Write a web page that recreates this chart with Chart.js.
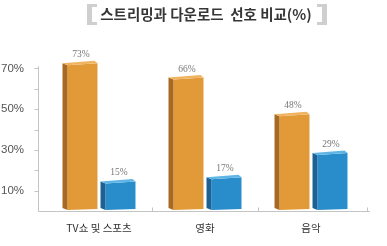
<!DOCTYPE html>
<html><head><meta charset="utf-8">
<script src="https://cdn.jsdelivr.net/npm/chart.js@4/dist/chart.umd.min.js"></script>
<style>html,body{margin:0;padding:0;background:#fff}#wrap{width:387px;height:246px}</style>
</head><body><div id="wrap"><canvas id="c" width="387" height="246"></canvas></div>
<script>
const titleText = '스트리밍과 다운로드  선호 비교(%)';
const categories = ['TV쇼 및 스포츠', '영화', '음악'];
const streaming = [73, 66, 48];
const download = [15, 17, 29];
const yTickLabels = [10, 30, 50, 70];
const yMinorTicks = [20, 40, 60];

const faces = [
  {front:'#E29A38', side:'#A86A22', top:'#F0B35F'},
  {front:'#2A8DCB', side:'#1B6195', top:'#5FB6E4'}
];

const deco = {
  id:'deco',
  beforeDatasetDraw(){ return false; },
  afterDatasetsDraw(chart){
    const ctx = chart.ctx;
    chart.data.datasets.forEach((ds, di) => {
      const meta = chart.getDatasetMeta(di);
      const f = faces[di];
      meta.data.forEach((bar, i) => {
        const w = bar.width, x0 = bar.x - w/2, x1 = bar.x + w/2, y = bar.y, b = bar.base;
        const d = 5;
        ctx.save();
        ctx.fillStyle = f.front;
        ctx.beginPath();
        ctx.moveTo(x0+d, y+3); ctx.lineTo(x1, y+1); ctx.lineTo(x1, b-2); ctx.lineTo(x0+d, b-1); ctx.closePath(); ctx.fill();
        ctx.fillStyle = f.side;
        ctx.beginPath();
        ctx.moveTo(x0, y+1); ctx.lineTo(x0+d, y+3); ctx.lineTo(x0+d, b-1); ctx.lineTo(x0, b-3); ctx.closePath(); ctx.fill();
        ctx.fillStyle = f.top;
        ctx.beginPath();
        ctx.moveTo(x0, y+1); ctx.lineTo(x1-3, y-1.5); ctx.lineTo(x1, y+1); ctx.lineTo(x0+d, y+3); ctx.closePath(); ctx.fill();
        ctx.fillStyle = '#777';
        ctx.font = '9.5px "Liberation Serif", serif';
        ctx.textAlign = 'center';
        ctx.textBaseline = 'alphabetic';
        ctx.fillText(ds.data[i] + '%', bar.x + 1, y - 5);
        ctx.restore();
      });
    });
  },
  afterDraw(chart){
    const ctx = chart.ctx;
    const xs = chart.scales.x, ys = chart.scales.y;
    const base = Math.round(ys.getPixelForValue(0)) + 0.5;
    const ax = 38.5;
    ctx.save();
    ctx.strokeStyle = '#c4c4c4';
    ctx.lineWidth = 1;
    ctx.beginPath();
    ctx.moveTo(ax, ys.getPixelForValue(70) - 2);
    ctx.lineTo(ax, base);
    ctx.stroke();
    // y tick marks
    yTickLabels.concat(yMinorTicks).forEach(v => {
      const py = Math.round(ys.getPixelForValue(v)) + 0.5;
      ctx.beginPath();
      ctx.moveTo(ax - 4, py); ctx.lineTo(ax, py); ctx.stroke();
    });
    // x axis line
    ctx.beginPath();
    ctx.moveTo(ax, base);
    ctx.lineTo(370, base);
    ctx.stroke();
    // category boundary marks
    const n = categories.length;
    for (let i = 0; i < n; i++) {
      const bx = i < n-1 ? (xs.getPixelForValue(i) + xs.getPixelForValue(i+1))/2 : chart.chartArea.right + 3;
      const px = Math.round(bx) + 0.5;
      ctx.beginPath();
      ctx.moveTo(px, base - 4);
      ctx.lineTo(px, base);
      ctx.stroke();
    }
    // title
    ctx.fillStyle = '#363636';
    ctx.font = 'bold 14.5px "Noto Sans CJK KR", sans-serif';
    ctx.textAlign = 'center';
    ctx.textBaseline = 'middle';
    ctx.fillText(titleText, 206, 14);
    ctx.fillStyle = '#cfcfcf';
    ctx.fillRect(87, 4, 5, 21);
    ctx.fillRect(87, 4, 10, 3);
    ctx.fillRect(87, 22, 10, 3);
    ctx.fillRect(322, 4, 5, 21);
    ctx.fillRect(317, 4, 10, 3);
    ctx.fillRect(317, 22, 10, 3);
    ctx.restore();
  }
};

new Chart(document.getElementById('c'), {
  type: 'bar',
  data: {
    labels: categories,
    datasets: [
      {label:'스트리밍', data: streaming, backgroundColor: faces[0].front, borderWidth:0},
      {label:'다운로드', data: download, backgroundColor: faces[1].front, borderWidth:0}
    ]
  },
  options: {
    responsive: false,
    animation: false,
    layout: {padding: {top: 48, right: 23, left: 0, bottom: 0}},
    plugins: {legend: {display:false}, tooltip: {enabled:false}, title: {display:false}},
    datasets: {bar: {categoryPercentage: 0.717, barPercentage: 0.92}},
    scales: {
      x: {
        grid: {display:false},
        border: {display:false},
        ticks: {color:'#333', padding: 3, font: {family:'"Noto Sans CJK KR", sans-serif', size: 10.5}},
        afterFit(s){ s.height = 35; }
      },
      y: {
        min: 0, max: 80,
        border: {display:false},
        grid: {display: false},
        ticks: {
          stepSize: 10, padding: 14, color: '#555',
          font: {family:'"Liberation Sans", Arial, sans-serif', size: 11.5},
          callback: v => yTickLabels.includes(v) ? v + '%' : ''
        },
        afterFit(s){ s.width = 46; }
      }
    }
  },
  plugins: [deco]
});
</script>
</body></html>
